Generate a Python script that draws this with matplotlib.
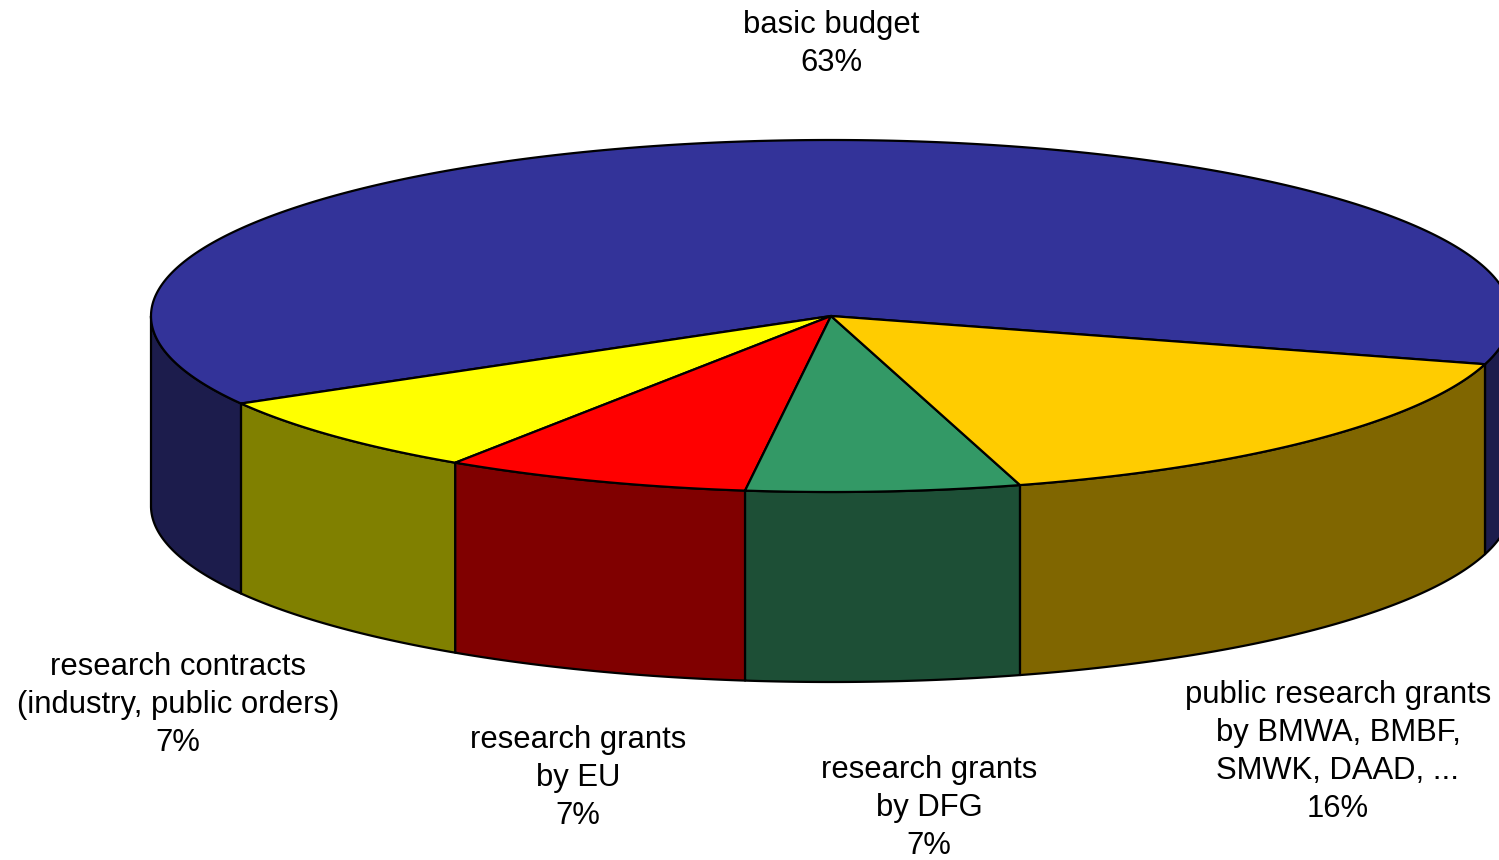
import numpy as np
import matplotlib.pyplot as plt
from matplotlib.patches import Polygon

labels = ["basic budget", "research contracts\n(industry, public orders)",
          "research grants\nby EU", "research grants\nby DFG",
          "public research grants\nby BMWA, BMBF,\nSMWK, DAAD, ..."]
shares = [62.7, 7.4, 7.3, 6.5, 16.1]
top_colors = ["#333399", "#FFFF00", "#FF0000", "#339966", "#FFCC00"]
side_colors = ["#1C1C4C", "#808000", "#800000", "#1D4F36", "#806600"]
label_pos = [(831, 44), (178, 705), (578, 778), (929, 808), (1338, 752)]

W, H = 1499, 860
fig = plt.figure(figsize=(W / 100, H / 100), dpi=100)
ax = fig.add_axes([0, 0, 1, 1])
ax.set_xlim(0, W)
ax.set_ylim(H, 0)
ax.axis("off")

cx, cy, a, b, depth = 831, 316, 680, 176, 190
start = -15.9
lw = 1.6

def pt(t):
    r = np.radians(t)
    return cx + a * np.cos(r), cy - b * np.sin(r)

vals = np.array(shares, dtype=float)
angles = start + np.concatenate([[0], np.cumsum(vals / vals.sum() * 360)])

# side walls (front half: 180..360 degrees)
for i in range(len(vals)):
    a1, a2 = angles[i], angles[i + 1]
    for off in (0, 360, -360):
        lo = max(a1 + off, 180)
        hi = min(a2 + off, 360)
        if hi > lo:
            ts = np.linspace(lo, hi, 200)
            top = [pt(t) for t in ts]
            bot = [(x, y + depth) for x, y in top[::-1]]
            ax.add_patch(Polygon(top + bot, closed=True, facecolor=side_colors[i],
                                 edgecolor="black", linewidth=lw, joinstyle="round"))

# top faces
for i in range(len(vals)):
    ts = np.linspace(angles[i], angles[i + 1], 400)
    verts = [(cx, cy)] + [pt(t) for t in ts]
    ax.add_patch(Polygon(verts, closed=True, facecolor=top_colors[i],
                         edgecolor="black", linewidth=lw, joinstyle="round"))

for lab, s, (x, y) in zip(labels, shares, label_pos):
    ax.text(x, y, f"{lab}\n{int(s + 0.5)}%", ha="center", va="center", fontsize=22.3,
            family="Liberation Sans", linespacing=1.34, color="black")

fig.savefig("out.png", dpi=100)
